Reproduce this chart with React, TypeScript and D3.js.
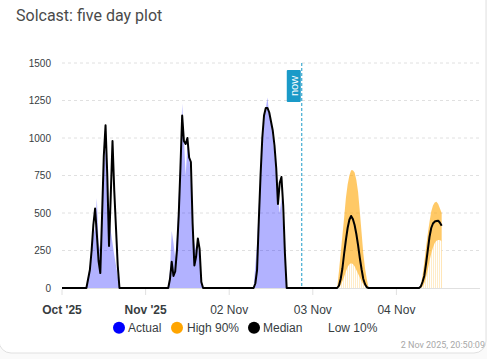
import React from "react";
import * as d3 from "d3";

// ---- Data (half-hour steps, values in W) ----
const dayDates = ["2025-10-31", "2025-11-01", "2025-11-02", "2025-11-03", "2025-11-04"];
const tickLabels = ["Oct '25", "Nov '25", "02 Nov", "03 Nov", "04 Nov"];
const tickBold = [true, true, false, false, false];
const yTicks = [0, 250, 500, 750, 1000, 1250, 1500];

// Actual (past days)
const actualStartHours = [7, 6.5, 7];
const actualOct31 = [0, 80, 150, 250, 350, 400, 600, 300, 250, 450, 800, 940, 650, 500, 380, 300, 220, 150, 80, 0];
const actualNov01 = [0, 120, 380, 300, 200, 350, 600, 850, 1230, 1000, 750, 950, 900, 700, 400, 300, 250, 280, 200, 50, 0];
const actualNov02 = [0, 150, 300, 550, 750, 950, 1100, 1200, 1270, 1150, 1100, 1000, 900, 750, 600, 500, 600, 400, 200, 0];

// Median (all days)
const medianStartHours = [7, 6.5, 7, 7, 6.5];
const medianOct31 = [0, 60, 120, 250, 420, 530, 360, 180, 100, 480, 880, 1085, 750, 280, 620, 980, 650, 400, 150, 0];
const medianNov01 = [0, 60, 175, 80, 110, 250, 480, 800, 1150, 980, 960, 1000, 870, 840, 430, 150, 210, 330, 260, 40, 0];
const medianNov02 = [0, 30, 120, 450, 750, 1000, 1150, 1200, 1200, 1170, 1110, 1050, 950, 800, 560, 700, 740, 550, 230, 0];
const medianNov03 = [0, 15, 60, 130, 230, 320, 400, 455, 480, 460, 420, 360, 285, 200, 125, 60, 25, 5, 0];
const medianNov04 = [0, 10, 40, 80, 160, 250, 340, 400, 430, 443, 447, 449, 435, 415];

// Forecast bands (future days)
const bandStartHours = [7, 6.5];
const high90Nov03 = [0, 110, 230, 350, 470, 600, 690, 750, 785, 785, 770, 720, 640, 510, 370, 230, 130, 60, 0];
const high90Nov04 = [0, 20, 80, 170, 270, 360, 440, 510, 550, 570, 575, 560, 530, 500];
const low10Nov03 = [0, 5, 20, 45, 75, 110, 140, 158, 165, 160, 145, 120, 95, 70, 45, 25, 12, 4, 0];
const low10Nov04 = [0, 0, 10, 30, 70, 120, 180, 230, 270, 300, 315, 320, 320, 310];

const legendNames = ["Actual", "High 90%", "Median", "Low 10%"];
const legendColors = ["#0000ff", "#ffa500", "#000000", "#ffffff"];

const nowTime = "2025-11-02T20:50:09Z";
const stampText = "2 Nov 2025, 20:50:09";

type Pt = { t: Date; v: number };

const dayStart = (i: number) => new Date(dayDates[i] + "T00:00:00Z");

function build(days: number[], starts: number[], arrays: number[][]): Pt[] {
  const out: Pt[] = [];
  days.forEach((d, k) => {
    const base = dayStart(d).getTime();
    arrays[k].forEach((v, i) => {
      out.push({ t: new Date(base + (starts[k] + i * 0.5) * 3600e3), v });
    });
  });
  return out;
}

export default function App() {
  const W = 487, H = 359;
  const x = d3.scaleUtc().domain([dayStart(0), new Date("2025-11-05T00:00:00Z")]).range([62, 480]);
  const y = d3.scaleLinear().domain([0, 1500]).range([288, 63]);

  const actual = build([0, 1, 2], actualStartHours, [actualOct31, actualNov01, actualNov02]);
  const median = [{ t: dayStart(0), v: 0 }, ...build([0, 1, 2, 3, 4], medianStartHours, [medianOct31, medianNov01, medianNov02, medianNov03, medianNov04])];
  const high = build([3, 4], bandStartHours, [high90Nov03, high90Nov04]);
  const low = build([3, 4], bandStartHours, [low10Nov03, low10Nov04]);

  const area = d3.area<Pt>().x(d => x(d.t)).y0(y(0)).y1(d => y(d.v));
  const line = d3.line<Pt>().x(d => x(d.t)).y(d => y(d.v));

  const nowX = x(new Date(nowTime));
  const ticks = dayDates.map((_, i) => dayStart(i));
  const chartFont = "'Liberation Sans', Arial, Helvetica, sans-serif";
  const nowColor = "#1a9ac8";

  const legendX = [119, 177, 254, 319];
  const legendTextX = [128, 187, 263, 328];

  return (
    <div style={{ position: "fixed", left: 0, top: 0, width: W, height: H, background: "#fafafa" }}>
      <svg width={W} height={H} style={{ display: "block" }}>
        <defs>
          <pattern id="lowStripes" patternUnits="userSpaceOnUse" width={2} height={4}>
            <rect width={2} height={4} fill="#ffffff" />
            <rect x={1} width={1} height={4} fill="#ffecc8" />
          </pattern>
        </defs>
        <rect x={-1} y={-14} width={487} height={367} rx={12} fill="#ffffff" stroke="#e0e0e0" />
        <text x={16} y={21} fontFamily="Roboto, sans-serif" fontSize={16} fill="#4a4a4a">Solcast: five day plot</text>

        {yTicks.filter(v => v > 0).map(v => (
          <line key={v} x1={62} x2={480} y1={y(v)} y2={y(v)} stroke="#e0e0e0" strokeDasharray="3 3" />
        ))}
        {yTicks.map(v => (
          <text key={v} x={51} y={y(v)} dy="0.35em" textAnchor="end" fontFamily={chartFont} fontSize={10} fill="#373d3f">{v}</text>
        ))}

        <path d={area(actual) || ""} fill="#0000ff" fillOpacity={0.3} />
        <path d={area(high) || ""} fill="#ffa500" fillOpacity={0.6} />
        <path d={area(low) || ""} fill="url(#lowStripes)" />

        <line x1={62} x2={480} y1={288.5} y2={288.5} stroke="#e0e0e0" />
        {ticks.map((t, i) => (
          <line key={i} x1={x(t)} x2={x(t)} y1={289} y2={295} stroke="#e0e0e0" />
        ))}

        <path d={line(median) || ""} fill="none" stroke="#000" strokeWidth={2} strokeLinejoin="round" />

        <line x1={nowX} x2={nowX} y1={63} y2={288} stroke={nowColor} strokeDasharray="3 2" />
        <rect x={nowX - 15} y={70} width={14} height={32} fill={nowColor} rx={1} />
        <text transform={`translate(${nowX - 8},86) rotate(-90)`} textAnchor="middle" dy="0.35em" fontFamily={chartFont} fontSize={11} fill="#ffffff">now</text>

        {ticks.map((t, i) => (
          <text key={i} x={x(t)} y={314} textAnchor="middle" fontFamily={chartFont} fontSize={12} fontWeight={tickBold[i] ? "bold" : "normal"} fill="#373d3f">{tickLabels[i]}</text>
        ))}

        {legendNames.map((n, i) => (
          <g key={n}>
            <circle cx={legendX[i]} cy={327.7} r={6} fill={legendColors[i]} />
            <text x={legendTextX[i]} y={332} fontFamily={chartFont} fontSize={12} fill="#373d3f">{n}</text>
          </g>
        ))}

        <text x={485} y={348} textAnchor="end" fontFamily="Roboto, sans-serif" fontSize={9} fill="#a8a8a8">{stampText}</text>
      </svg>
    </div>
  );
}
